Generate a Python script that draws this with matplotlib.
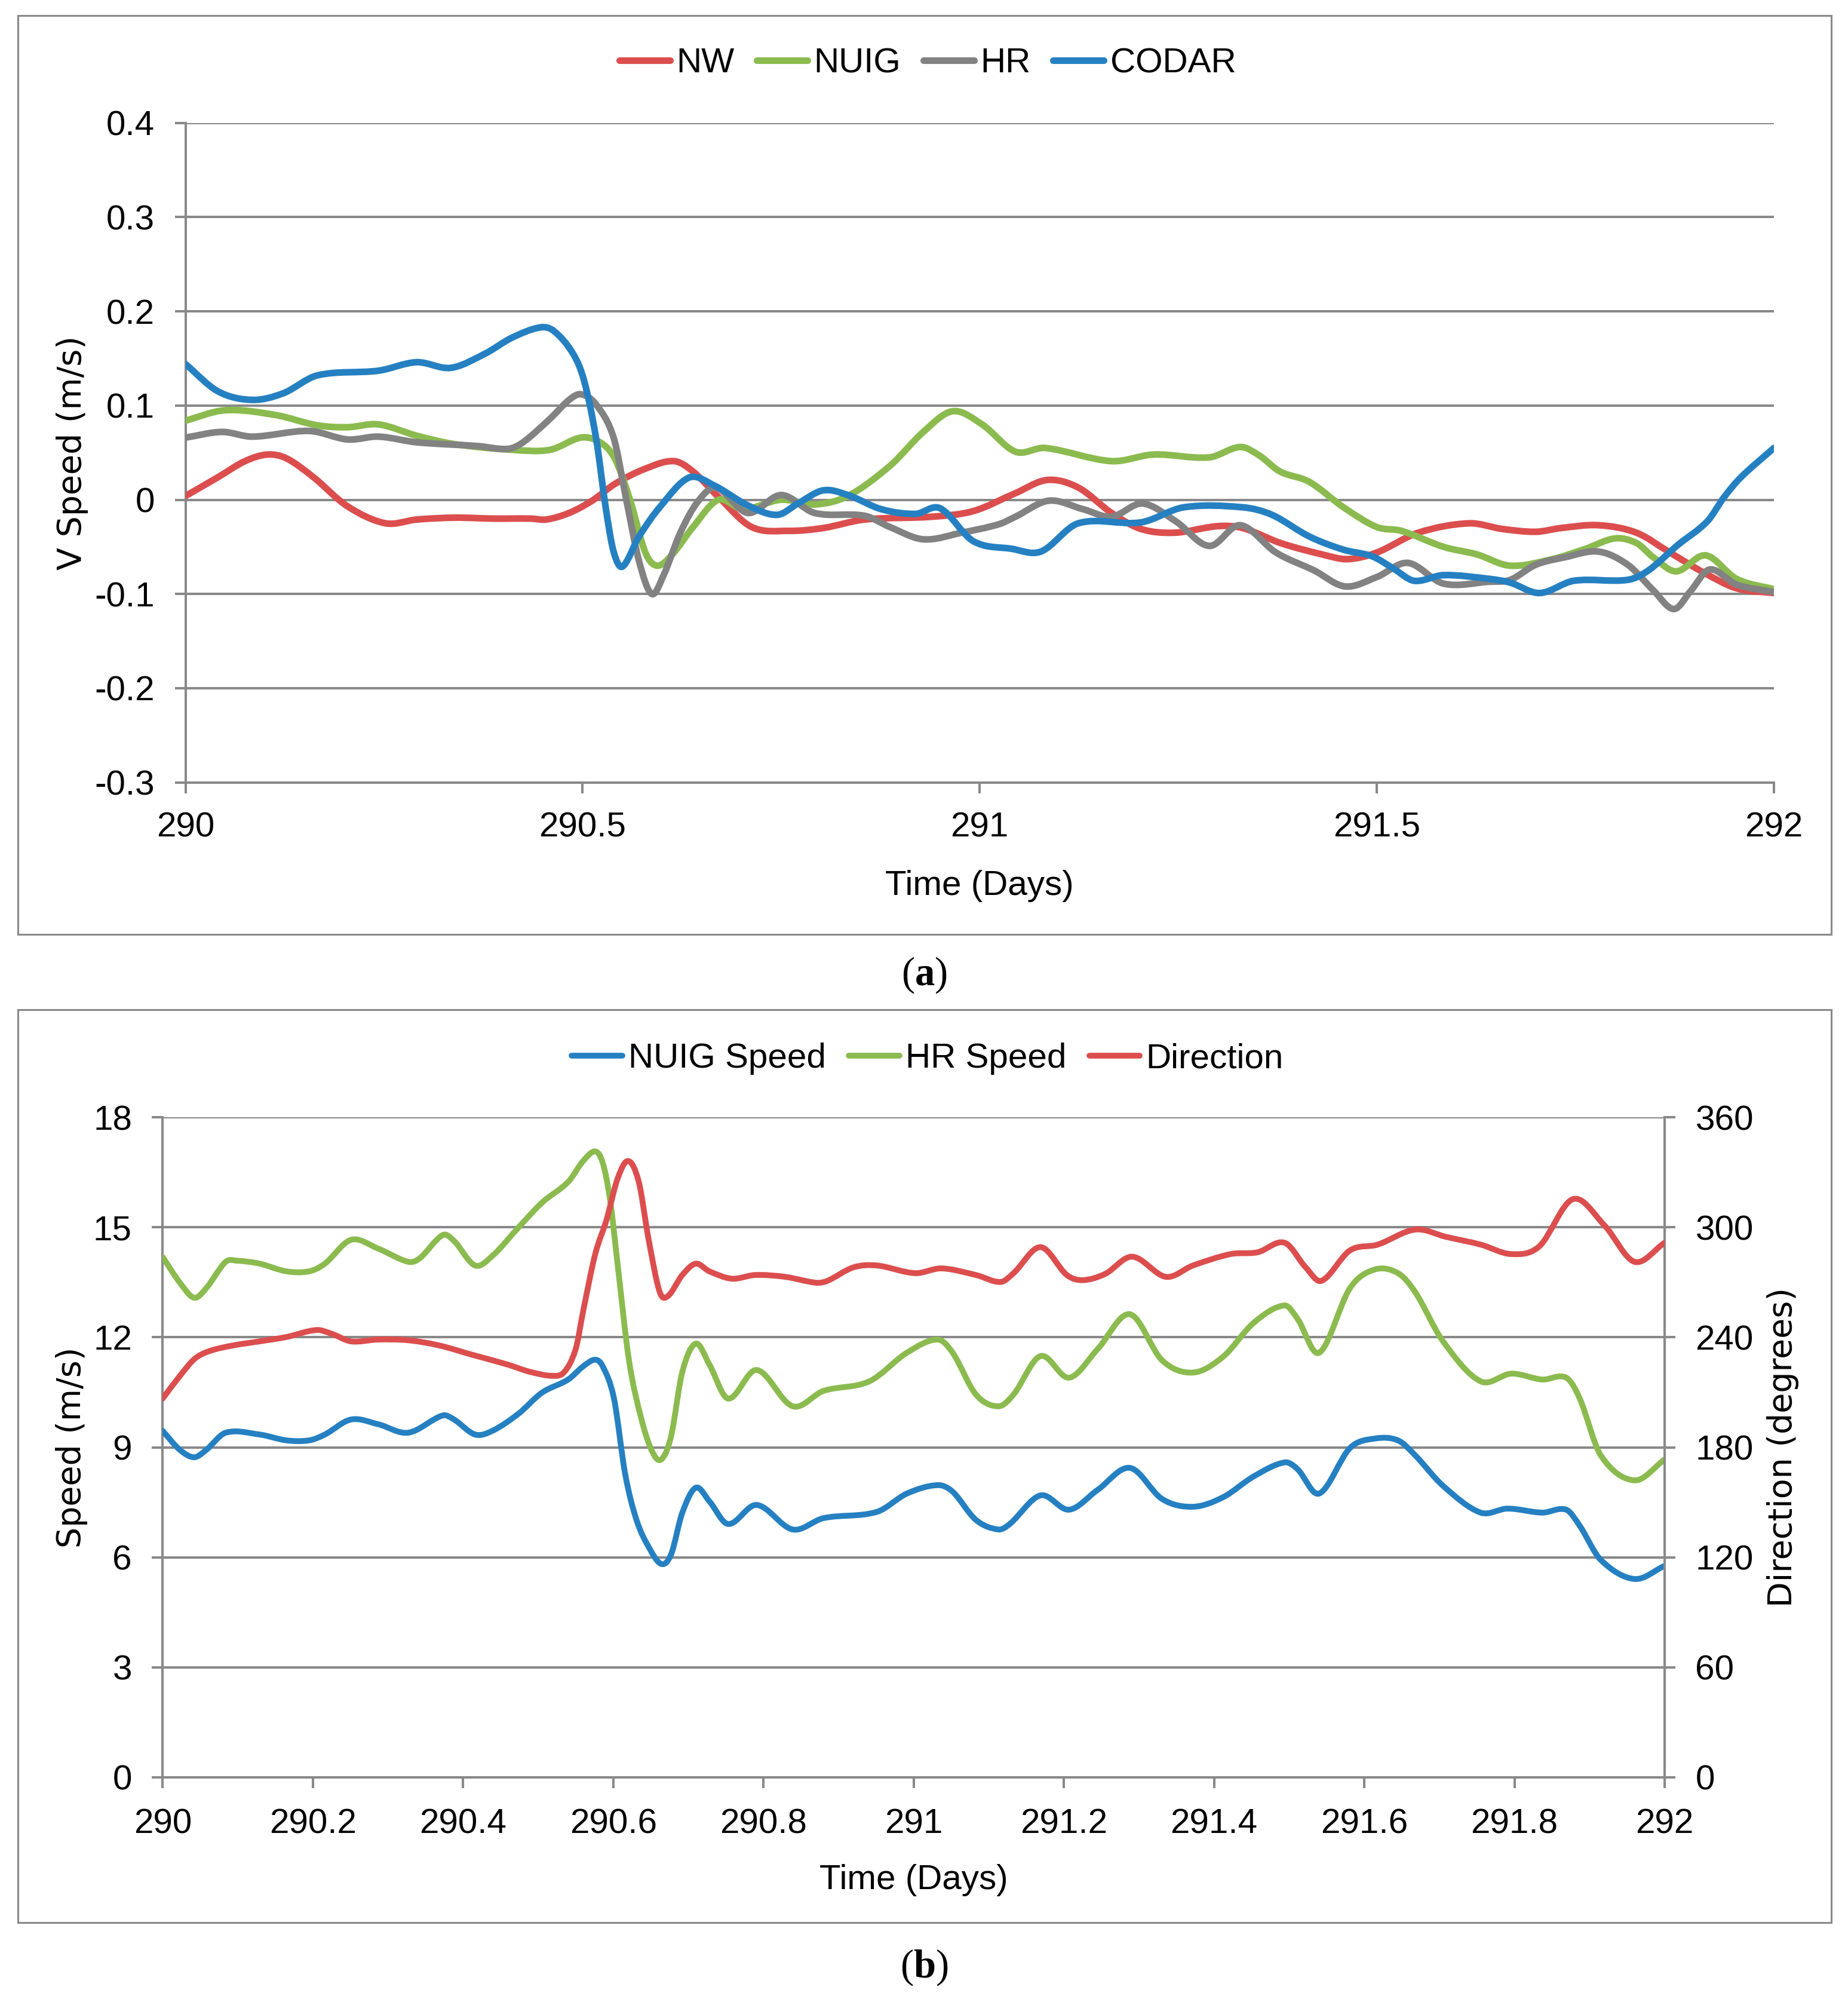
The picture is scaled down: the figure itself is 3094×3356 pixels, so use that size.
import matplotlib
matplotlib.use("Agg")
import matplotlib.pyplot as plt
from matplotlib.patches import Rectangle, PathPatch
from matplotlib.path import Path
from matplotlib.lines import Line2D

# ---------------- data: panel (a) ----------------
nw_t = [290.0, 290.041, 290.075, 290.103, 290.127, 290.161, 290.204, 290.252, 290.291, 290.339,
        290.387, 290.435, 290.454, 290.483, 290.512, 290.541, 290.579, 290.615, 290.639, 290.671,
        290.713, 290.76, 290.803, 290.855, 290.94, 290.992, 291.045, 291.085, 291.124, 291.166,
        291.203, 291.245, 291.3, 291.331, 291.379, 291.431, 291.463, 291.5, 291.552, 291.616,
        291.658, 291.7, 291.732, 291.779, 291.827, 291.869, 291.911, 291.953, 292.0]
nw_v = [0.004, 0.024, 0.041, 0.048, 0.044, 0.024, -0.007, -0.025, -0.021, -0.019,
        -0.020, -0.020, -0.021, -0.014, -0.001, 0.017, 0.033, 0.041, 0.030, 0.003,
        -0.029, -0.033, -0.030, -0.021, -0.018, -0.012, 0.007, 0.021, 0.013, -0.014,
        -0.031, -0.035, -0.028, -0.030, -0.046, -0.058, -0.063, -0.056, -0.035, -0.025,
        -0.031, -0.034, -0.030, -0.027, -0.035, -0.056, -0.077, -0.094, -0.099]

nuig_t = [290.0, 290.05, 290.113, 290.166, 290.204, 290.243, 290.291, 290.339, 290.411, 290.459,
          290.498, 290.522, 290.541, 290.56, 290.579, 290.594, 290.613, 290.639, 290.671, 290.702,
          290.75, 290.792, 290.834, 290.887, 290.929, 290.966, 291.003, 291.045, 291.082, 291.166,
          291.219, 291.289, 291.328, 291.352, 291.378, 291.415, 291.458, 291.5, 291.531, 291.584,
          291.626, 291.668, 291.721, 291.763, 291.8, 291.827, 291.848, 291.877, 291.914, 291.953, 292.0]
nuig_v = [0.084, 0.095, 0.090, 0.079, 0.077, 0.080, 0.068, 0.059, 0.053, 0.053,
          0.066, 0.061, 0.043, -0.001, -0.056, -0.070, -0.058, -0.029, 0.0, -0.01,
          0.0, -0.005, 0.004, 0.036, 0.072, 0.094, 0.080, 0.051, 0.055, 0.041,
          0.048, 0.045, 0.056, 0.047, 0.030, 0.019, -0.008, -0.029, -0.033, -0.050,
          -0.058, -0.070, -0.063, -0.052, -0.041, -0.046, -0.061, -0.076, -0.059, -0.084, -0.095]

hr_t = [290.0, 290.046, 290.084, 290.156, 290.204, 290.243, 290.291, 290.368, 290.406, 290.425,
        290.459, 290.483, 290.498, 290.517, 290.539, 290.555, 290.571, 290.587, 290.602, 290.623,
        290.645, 290.668, 290.708, 290.75, 290.792, 290.855, 290.887, 290.929, 290.977, 291.024,
        291.045, 291.087, 291.13, 291.166, 291.205, 291.247, 291.289, 291.328, 291.373, 291.421,
        291.46, 291.5, 291.539, 291.584, 291.642, 291.668, 291.7, 291.737, 291.779, 291.816,
        291.848, 291.874, 291.895, 291.919, 291.953, 292.0]
hr_v = [0.066, 0.072, 0.067, 0.073, 0.064, 0.067, 0.061, 0.057, 0.054, 0.061,
        0.086, 0.106, 0.112, 0.101, 0.066, 0.0, -0.065, -0.10, -0.08, -0.035,
        -0.002, 0.013, -0.014, 0.005, -0.014, -0.017, -0.029, -0.042, -0.035, -0.026,
        -0.018, -0.001, -0.010, -0.018, -0.004, -0.023, -0.049, -0.027, -0.056, -0.075,
        -0.092, -0.082, -0.067, -0.089, -0.087, -0.085, -0.069, -0.061, -0.055, -0.069,
        -0.096, -0.116, -0.097, -0.074, -0.090, -0.098]

codar_t = [290.0, 290.041, 290.084, 290.123, 290.166, 290.243, 290.291, 290.334, 290.377, 290.411,
           290.447, 290.464, 290.488, 290.502, 290.517, 290.529, 290.539, 290.55, 290.571, 290.597,
           290.634, 290.666, 290.708, 290.745, 290.771, 290.803, 290.834, 290.876, 290.919, 290.95,
           290.992, 291.04, 291.077, 291.124, 291.203, 291.257, 291.331, 291.368, 291.415, 291.458,
           291.494, 291.521, 291.547, 291.584, 291.642, 291.668, 291.705, 291.748, 291.816, 291.842,
           291.879, 291.916, 291.937, 291.958, 292.0]
codar_v = [0.144, 0.115, 0.106, 0.113, 0.132, 0.137, 0.146, 0.140, 0.155, 0.172,
           0.183, 0.179, 0.155, 0.126, 0.065, -0.008, -0.055, -0.071, -0.039, -0.008,
           0.0235, 0.015, -0.006, -0.016, -0.004, 0.010, 0.005, -0.010, -0.015, -0.009,
           -0.044, -0.052, -0.055, -0.025, -0.024, -0.008, -0.008, -0.016, -0.039, -0.053,
           -0.060, -0.073, -0.086, -0.080, -0.084, -0.088, -0.099, -0.086, -0.085, -0.075,
           -0.048, -0.023, 0.0025, 0.0235, 0.055]

a_yticks = [-0.3, -0.2, -0.1, 0.0, 0.1, 0.2, 0.3, 0.4]
a_ylabels = ["-0.3", "-0.2", "-0.1", "0", "0.1", "0.2", "0.3", "0.4"]
a_xticks = [290.0, 290.5, 291.0, 291.5, 292.0]
a_xlabels = ["290", "290.5", "291", "291.5", "292"]

# ---------------- data: panel (b) ----------------
nuigs_t = [290.0, 290.023, 290.042, 290.058, 290.084, 290.129, 290.165, 290.195, 290.216, 290.251,
           290.287, 290.327, 290.373, 290.388, 290.416, 290.439, 290.474, 290.505, 290.54, 290.56,
           290.576, 290.586, 290.601, 290.616, 290.631, 290.647, 290.664, 290.677, 290.692, 290.71,
           290.728, 290.753, 290.791, 290.839, 290.88, 290.951, 290.991, 291.032, 291.052, 291.083,
           291.113, 291.128, 291.169, 291.207, 291.245, 291.288, 291.331, 291.372, 291.412, 291.453,
           291.494, 291.511, 291.54, 291.581, 291.614, 291.645, 291.668, 291.705, 291.755, 291.791,
           291.837, 291.869, 291.887, 291.915, 291.96, 292.0]
nuigs_v = [9.45, 8.93, 8.73, 8.93, 9.40, 9.35, 9.19, 9.19, 9.35, 9.76,
           9.63, 9.40, 9.87, 9.76, 9.35, 9.45, 9.92, 10.49, 10.85, 11.21,
           11.39, 11.21, 10.33, 8.26, 7.02, 6.29, 5.82, 6.08, 7.22, 7.90,
           7.53, 6.91, 7.43, 6.76, 7.07, 7.24, 7.74, 7.97, 7.79, 7.02,
           6.76, 6.91, 7.69, 7.30, 7.84, 8.44, 7.59, 7.38, 7.64, 8.21,
           8.59, 8.41, 7.74, 8.98, 9.24, 9.19, 8.78, 7.95, 7.22, 7.33,
           7.22, 7.30, 6.86, 5.93, 5.41, 5.77]

hrs_t = [290.0, 290.023, 290.042, 290.058, 290.084, 290.099, 290.129, 290.165, 290.195, 290.216,
         290.251, 290.287, 290.327, 290.342, 290.373, 290.388, 290.416, 290.439, 290.474, 290.505,
         290.54, 290.56, 290.576, 290.586, 290.596, 290.606, 290.621, 290.637, 290.652, 290.664,
         290.677, 290.692, 290.71, 290.728, 290.753, 290.791, 290.839, 290.88, 290.941, 290.991,
         291.032, 291.052, 291.083, 291.113, 291.133, 291.169, 291.207, 291.245, 291.288, 291.331,
         291.372, 291.412, 291.453, 291.494, 291.511, 291.54, 291.581, 291.614, 291.645, 291.668,
         291.705, 291.755, 291.796, 291.837, 291.869, 291.887, 291.915, 291.96, 292.0]
hrs_v = [14.19, 13.49, 13.08, 13.34, 14.06, 14.09, 14.01, 13.80, 13.80, 14.01,
         14.66, 14.42, 14.06, 14.15, 14.79, 14.63, 13.96, 14.22, 15.0, 15.67,
         16.24, 16.81, 17.07, 16.76, 15.72, 13.96, 11.37, 9.81, 8.88, 8.67,
         9.30, 11.06, 11.83, 11.26, 10.33, 11.11, 10.12, 10.54, 10.80, 11.58,
         11.94, 11.58, 10.44, 10.12, 10.44, 11.49, 10.90, 11.68, 12.63, 11.37,
         11.04, 11.47, 12.40, 12.87, 12.51, 11.58, 13.34, 13.85, 13.75, 13.23,
         11.89, 10.80, 11.01, 10.85, 10.90, 10.33, 8.78, 8.10, 8.67]

dir_t = [290.0, 290.023, 290.043, 290.063, 290.094, 290.129, 290.165, 290.205, 290.226, 290.251,
         290.287, 290.327, 290.368, 290.413, 290.459, 290.489, 290.52, 290.535, 290.55, 290.56,
         290.576, 290.591, 290.606, 290.62, 290.634, 290.647, 290.662, 290.673, 290.692, 290.71,
         290.728, 290.758, 290.789, 290.829, 290.87, 290.885, 290.92, 290.951, 291.002, 291.037,
         291.083, 291.116, 291.133, 291.169, 291.204, 291.225, 291.255, 291.291, 291.336, 291.372,
         291.422, 291.458, 291.494, 291.522, 291.543, 291.581, 291.618, 291.668, 291.709, 291.755,
         291.796, 291.833, 291.878, 291.92, 291.96, 292.0]
dir_v = [206.6, 219.0, 228.4, 232.6, 235.6, 237.8, 240.2, 244.0, 241.8, 237.8,
         238.8, 238.4, 235.6, 230.4, 225.2, 221.2, 219.0, 221.2, 233.6, 254.4,
         285.4, 304.0, 326.8, 336.2, 324.8, 293.6, 264.6, 262.6, 274.0, 280.2,
         276.0, 272.0, 274.0, 273.0, 269.8, 270.8, 278.2, 279.2, 275.0, 277.6,
         274.0, 270.2, 275.0, 289.2, 274.0, 271.2, 274.6, 284.0, 273.0, 279.2,
         285.4, 286.4, 291.6, 278.2, 270.8, 287.4, 290.6, 298.8, 294.8, 290.6,
         285.4, 289.6, 315.4, 301.0, 281.2, 291.6]

b_yticks = [0, 3, 6, 9, 12, 15, 18]
b_y2ticks = [0, 60, 120, 180, 240, 300, 360]
b_xticks = [290.0, 290.2, 290.4, 290.6, 290.8, 291.0, 291.2, 291.4, 291.6, 291.8, 292.0]
b_xlabels = ["290", "290.2", "290.4", "290.6", "290.8", "291", "291.2", "291.4", "291.6", "291.8", "292"]

# ---------------- style ----------------
RED = "#DC4E4E"
GREEN = "#8BBB4F"
GRAY = "#828282"
BLUE = "#2580C2"
GRID = "#898989"
SANS = "Liberation Sans"
FS = 42
LWA = 8.0
LWB = 7.0
GLW = 2.9

plt.rcParams["font.family"] = [SANS, "DejaVu Sans"]
plt.rcParams["mathtext.fontset"] = "custom"
plt.rcParams["mathtext.rm"] = "Liberation Serif"
plt.rcParams["mathtext.bf"] = "Liberation Serif:bold"

W, H = 3094, 3356
fig = plt.figure(figsize=(W / 100, H / 100), dpi=100)

# panel frames
for (y0, y1) in [(26, 1564), (1690, 3218)]:
    fig.add_artist(Rectangle((30 / W, 1 - y1 / H), (3066 - 30) / W, (y1 - y0) / H,
                             transform=fig.transFigure, fill=False,
                             edgecolor=GRID, linewidth=2.2))


def smooth_line(ax, xs, ys, color, lw, z=3):
    """Draw the series as a smooth cubic (Hermite/Bezier) curve through the points."""
    n = len(xs)
    slopes = []
    for i in range(n):
        if i == 0:
            m = (ys[1] - ys[0]) / (xs[1] - xs[0])
        elif i == n - 1:
            m = (ys[-1] - ys[-2]) / (xs[-1] - xs[-2])
        else:
            m = (ys[i + 1] - ys[i - 1]) / (xs[i + 1] - xs[i - 1])
        slopes.append(m)
    verts = [(xs[0], ys[0])]
    codes = [Path.MOVETO]
    for i in range(n - 1):
        h = xs[i + 1] - xs[i]
        verts.append((xs[i] + h / 3, ys[i] + slopes[i] * h / 3))
        verts.append((xs[i + 1] - h / 3, ys[i + 1] - slopes[i + 1] * h / 3))
        verts.append((xs[i + 1], ys[i + 1]))
        codes += [Path.CURVE4] * 3
    patch = PathPatch(Path(verts, codes), facecolor="none", edgecolor=color, lw=lw,
                      capstyle="round", joinstyle="round", transform=ax.transData, zorder=z)
    ax.add_patch(patch)
    return Line2D([], [], color=color, lw=lw, solid_capstyle="round")


def style_axis(ax):
    ax.set_facecolor("none")
    ax.grid(axis="y", color=GRID, linewidth=GLW, zorder=0)
    ax.grid(axis="x", visible=False)
    ax.set_axisbelow(True)
    for s in ["top", "right"]:
        ax.spines[s].set_visible(False)
    for s in ["left", "bottom"]:
        ax.spines[s].set_color(GRID)
        ax.spines[s].set_linewidth(GLW)
    ax.tick_params(axis="both", direction="out", length=13, width=GLW, color=GRID,
                   labelsize=FS, labelcolor="black")


# ---------------- panel (a) ----------------
axa = fig.add_axes([310.6 / W, 1 - 1309.6 / H, (2970 - 310.6) / W, (1309.6 - 205.7) / H])
style_axis(axa)
h_nw = smooth_line(axa, nw_t, nw_v, RED, LWA)
h_nuig = smooth_line(axa, nuig_t, nuig_v, GREEN, LWA)
h_hr = smooth_line(axa, hr_t, hr_v, GRAY, LWA)
h_codar = smooth_line(axa, codar_t, codar_v, BLUE, LWA)
axa.set_xlim(290, 292)
axa.set_ylim(-0.3, 0.4)
axa.set_yticks(a_yticks)
axa.set_yticklabels(a_ylabels)
axa.set_xticks(a_xticks)
axa.set_xticklabels(a_xlabels)
axa.tick_params(axis="y", pad=24)
axa.tick_params(axis="x", pad=22)
axa.set_xlabel("Time (Days)", fontsize=FS, family=SANS)
axa.xaxis.set_label_coords(0.5, -0.133)
axa.set_ylabel("V Speed (m/s)", fontsize=FS - 2, family="DejaVu Sans")
axa.yaxis.set_label_coords(-0.061, 0.5)
fig.legend([h_nw, h_nuig, h_hr, h_codar], ["NW", "NUIG", "HR", "CODAR"], loc="center",
           bbox_to_anchor=(0.502, 1 - 106 / H), ncol=4, frameon=False, fontsize=FS,
           handlelength=1.45, handletextpad=0.18, columnspacing=0.65)

fig.text(0.5, 1 - 1632 / H, r"($\mathbf{a}$)", fontsize=48, family="Liberation Serif",
         ha="center", va="center")

# ---------------- panel (b) ----------------
axb = fig.add_axes([272.3 / W, 1 - 2975 / H, (2787 - 272.3) / W, (2975 - 1870.2) / H])
style_axis(axb)
axb.spines["right"].set_visible(True)
axb.spines["right"].set_color(GRID)
axb.spines["right"].set_linewidth(GLW)
h1 = smooth_line(axb, nuigs_t, nuigs_v, BLUE, LWB)
h2 = smooth_line(axb, hrs_t, hrs_v, GREEN, LWB)
axb.set_xlim(290, 292)
axb.set_ylim(0, 18)
axb.set_yticks(b_yticks)
axb.set_yticklabels([str(v) for v in b_yticks])
axb.set_xticks(b_xticks)
axb.set_xticklabels(b_xlabels)
axb.tick_params(axis="y", pad=24)
axb.tick_params(axis="x", pad=24)
axb.set_xlabel("Time (Days)", fontsize=FS, family=SANS)
axb.xaxis.set_label_coords(0.5, -0.131)
axb.set_ylabel("Speed (m/s)", fontsize=FS - 2, family="DejaVu Sans")
axb.yaxis.set_label_coords(-0.050, 0.5)

axr = axb.twinx()
axr.set_facecolor("none")
for s in ["top", "left", "bottom"]:
    axr.spines[s].set_visible(False)
axr.spines["right"].set_color(GRID)
axr.spines["right"].set_linewidth(GLW)
h3 = smooth_line(axr, dir_t, dir_v, RED, LWB)
axr.set_xlim(290, 292)
axr.set_ylim(0, 360)
axr.set_yticks(b_y2ticks)
axr.set_yticklabels([str(v) for v in b_y2ticks])
axr.tick_params(axis="y", direction="out", length=13, width=GLW, color=GRID,
                labelsize=FS, pad=24)
axr.set_ylabel("Direction (degrees)", fontsize=FS - 2, family="DejaVu Sans")
axr.yaxis.set_label_coords(1.068, 0.5)

fig.legend([h1, h2, h3], ["NUIG Speed", "HR Speed", "Direction"], loc="center",
           bbox_to_anchor=(0.502, 1 - 1772 / H), ncol=3, frameon=False, fontsize=FS,
           handlelength=1.45, handletextpad=0.18, columnspacing=0.65)

fig.text(0.5, 1 - 3293 / H, r"($\mathbf{b}$)", fontsize=48, family="Liberation Serif",
         ha="center", va="center")

fig.savefig("out.png", dpi=100)
